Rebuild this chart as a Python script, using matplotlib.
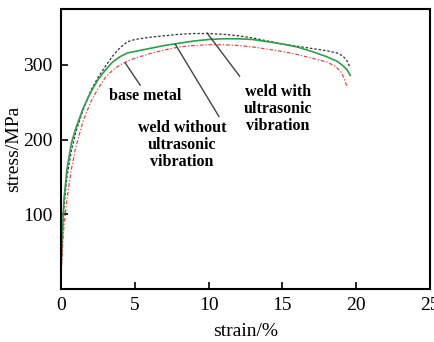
import matplotlib
matplotlib.use("Agg")
import matplotlib.pyplot as plt

strain = [0, 0.1, 0.2, 0.4, 0.7, 1.0, 1.5, 2.0, 2.5, 3.0, 3.5, 4.0, 4.5, 5, 6, 7, 8, 9, 10,
          11, 12, 13, 14, 15, 16, 17, 18, 18.7, 19.1, 19.4, 19.6]
weld_with = [20, 70, 110, 150, 185, 210, 240, 265, 283, 298, 312, 323, 331, 334, 337, 339, 341, 342, 342,
             341, 339, 336, 332, 328, 325, 322, 319, 316, 312, 305, 296]
weld_without = [25, 80, 120, 160, 195, 215, 242, 263, 280, 293, 304, 311, 316, 318, 322, 326, 329, 332, 334,
                335, 335, 334, 331, 328, 324, 318, 311, 305, 299, 293, 286]
strain_base = [0, 0.1, 0.2, 0.4, 0.7, 1.0, 1.5, 2.0, 2.5, 3.0, 3.5, 4.0, 4.5, 5, 6, 7, 8, 9, 10,
               11, 12, 13, 14, 15, 16, 17, 18, 18.6, 19.0, 19.2, 19.4]
base_metal = [20, 55, 85, 120, 160, 190, 225, 250, 268, 283, 293, 300, 305, 309, 315, 320, 324, 326, 327,
              327, 326, 324, 321, 318, 314, 309, 304, 298, 290, 281, 270]

x_ticks = [0, 5, 10, 15, 20, 25]
y_ticks = [100, 200, 300]

plt.rcParams['font.family'] = ['Liberation Serif', 'DejaVu Serif']

fig = plt.figure(figsize=(4.34, 3.42), dpi=100)
ax = fig.add_axes([0.1406, 0.155, 0.85, 0.819])

ax.plot(strain, weld_with, color='#333333', lw=0.9, ls=(0, (2, 1.5)))
ax.plot(strain, weld_without, color='#2e9e4a', lw=1.2, ls='-')
ax.plot(strain_base, base_metal, color='#ee4444', lw=0.9, ls=(0, (3, 1.5, 1, 1.5)))

ax.set_xlim(0, 25)
ax.set_ylim(0, 375)
ax.set_xticks(x_ticks)
ax.set_yticks(y_ticks)
ax.tick_params(direction='in', length=5, width=1.2, labelsize=14, pad=6)
for s in ax.spines.values():
    s.set_linewidth(1.5)

ax.set_xlabel('strain/%', fontsize=14, labelpad=6)
ax.set_ylabel('stress/MPa', fontsize=14, labelpad=1)

lc = '#444444'
ax.plot([4.35, 5.36], [302.7, 273], color=lc, lw=1)
ax.text(5.7, 258, 'base metal', fontsize=11.5, fontweight='bold', ha='center', va='center')
ax.plot([7.73, 10.7], [328, 231], color=lc, lw=1)
ax.text(8.2, 193, 'weld without\nultrasonic\nvibration', fontsize=11.5, fontweight='bold',
        ha='center', va='center', linespacing=1.1)
ax.plot([9.9, 12.1], [342.7, 285], color=lc, lw=1)
ax.text(14.7, 241, 'weld with\nultrasonic\nvibration', fontsize=11.5, fontweight='bold',
        ha='center', va='center', linespacing=1.1)

fig.savefig('out.png', dpi=100)
